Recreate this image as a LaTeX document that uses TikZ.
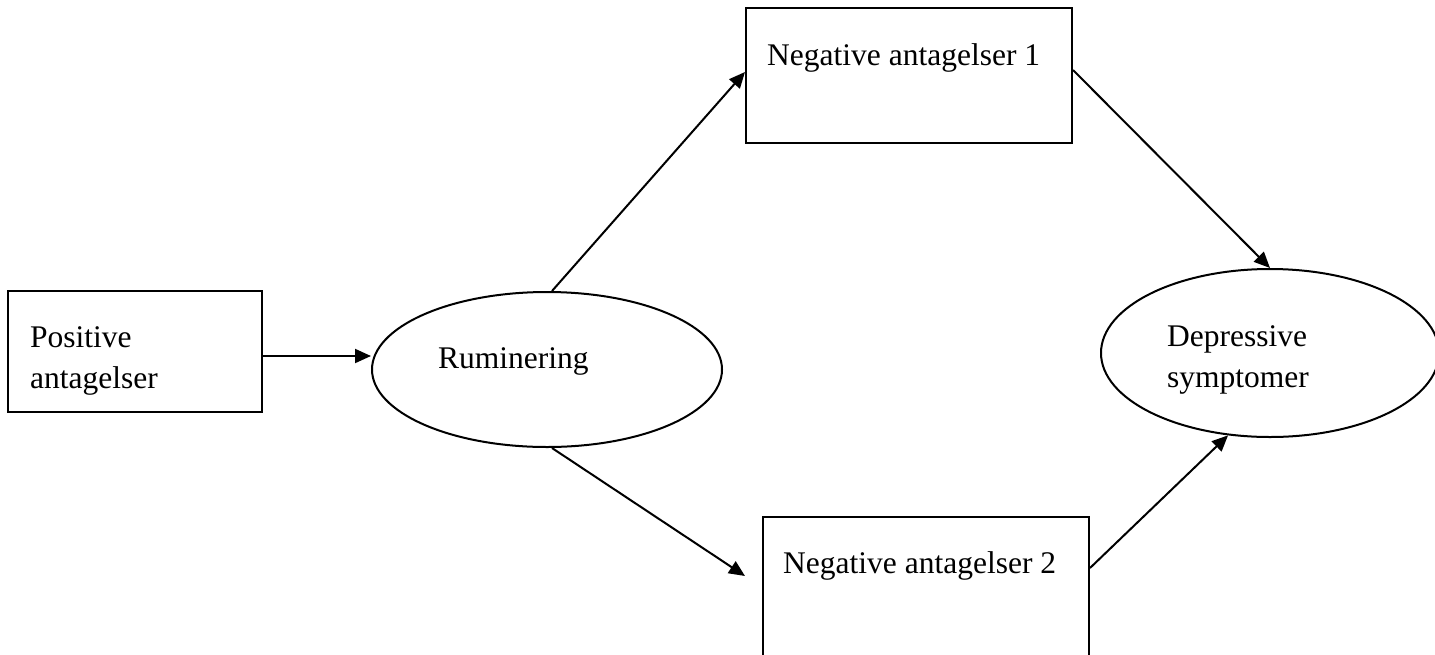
\documentclass[tikz,border=0pt]{standalone}
\usepackage{fontspec}
\setmainfont{Liberation Serif}
\usetikzlibrary{arrows.meta,shapes.geometric}
\begin{document}
\begin{tikzpicture}[x=1pt,y=-1pt,
  box/.style={draw,line width=2pt,rectangle,inner sep=0pt},
  oval/.style={draw,line width=2pt,ellipse,inner sep=0pt},
  lbl/.style={inner sep=0pt,font=\fontsize{31.5}{41}\selectfont,align=left,anchor=base west},
  conn/.style={line width=2pt,-{Triangle[length=16pt,width=14pt]}}]
\useasboundingbox (0,0) rectangle (1435,654);
\clip (0,0) rectangle (1435,654);
% shapes
\node[box,minimum width=254pt,minimum height=121pt] (pos) at (135,351.5) {};
\node[oval,minimum width=350pt,minimum height=155pt] (rum) at (547,369.5) {};
\node[box,minimum width=326pt,minimum height=135pt] (na1) at (909,75.5) {};
\node[box,minimum width=326pt,minimum height=153pt] (na2) at (926,593.5) {};
\node[oval,minimum width=338pt,minimum height=168pt] (dep) at (1270,353) {};
% labels (base anchor = baseline of the last line)
\node[lbl] (posl) at (30,388) {Positive\\antagelser};
\node[lbl] (rScan) at (438,368) {Ruminering};
\node[lbl] (na1l) at (767,65) {Negative antagelser 1};
\node[lbl] (na2l) at (783,573) {Negative antagelser 2};
\node[lbl] (depl) at (1167,387) {Depressive\\symptomer};
% connectors
\draw[conn] ([yshift=-4.5pt]pos.east) -- ([yshift=13.5pt]rum.west);
\draw[conn] ([xshift=5pt]rum.north) -- ([yshift=3.5pt]na1.west);
\draw[conn] ([yshift=5.5pt]na1.east) -- (dep.north);
\draw[conn] ([xshift=5pt]rum.south) -- ([xshift=-17pt,yshift=17.5pt]na2.west);
\draw[conn] ([yshift=25.5pt]na2.east) -- (dep.243);
\end{tikzpicture}
\end{document}
